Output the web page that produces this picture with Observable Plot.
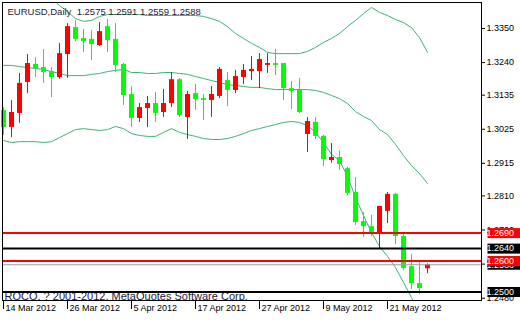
<!DOCTYPE html>
<html><head><meta charset="utf-8">
<script src="https://cdn.jsdelivr.net/npm/d3@7"></script>
<script src="https://cdn.jsdelivr.net/npm/@observablehq/plot@0.6"></script>
<style>
html,body{margin:0;padding:0;background:#fff;overflow:hidden;}
</style></head><body><div id="chart"></div>
<script>
const symbol = "EURUSD";
const period = "Daily";
const copyright = "ROCO, ? 2001-2012, MetaQuotes Software Corp.";

const dates = ["14 Mar 2012","15 Mar 2012","16 Mar 2012","19 Mar 2012","20 Mar 2012","21 Mar 2012","22 Mar 2012","23 Mar 2012","26 Mar 2012","27 Mar 2012","28 Mar 2012","29 Mar 2012","30 Mar 2012","2 Apr 2012","3 Apr 2012","4 Apr 2012","5 Apr 2012","6 Apr 2012","9 Apr 2012","10 Apr 2012","11 Apr 2012","12 Apr 2012","13 Apr 2012","16 Apr 2012","17 Apr 2012","18 Apr 2012","19 Apr 2012","20 Apr 2012","23 Apr 2012","24 Apr 2012","25 Apr 2012","26 Apr 2012","27 Apr 2012","30 Apr 2012","1 May 2012","2 May 2012","3 May 2012","4 May 2012","7 May 2012","8 May 2012","9 May 2012","10 May 2012","11 May 2012","14 May 2012","15 May 2012","16 May 2012","17 May 2012","18 May 2012","21 May 2012","22 May 2012","23 May 2012","24 May 2012","25 May 2012","28 May 2012"];

const open = [1.3086,1.3031,1.3076,1.3176,1.3234,1.3224,1.3211,1.3192,1.3266,1.3353,
  1.3318,1.3315,1.3295,1.3356,1.3315,1.3234,1.3137,1.3060,1.3092,1.3108,
  1.3079,1.3108,1.3185,1.3063,1.3140,1.3124,1.3118,1.3131,1.3182,1.3150,
  1.3192,1.3211,1.3211,1.3231,1.3237,1.3237,1.3156,1.3150,1.3008,1.3047,
  1.3002,1.2924,1.2934,1.2898,1.2821,1.2727,1.2711,1.2689,1.2760,1.2815,
  1.2679,1.2582,1.2527,1.2575];
const high = [1.3095,1.3118,1.3205,1.3266,1.3256,1.3282,1.3224,1.3302,1.3366,1.3376,
  1.3347,1.3344,1.3369,1.3379,1.3366,1.3237,1.3163,1.3108,1.3131,1.3144,
  1.3153,1.3208,1.3189,1.3147,1.3169,1.3137,1.3163,1.3224,1.3208,1.3215,
  1.3234,1.3260,1.3269,1.3269,1.3282,1.3237,1.3179,1.3189,1.3063,1.3063,
  1.3005,1.2979,1.2956,1.2902,1.2869,1.2756,1.2747,1.2776,1.2821,1.2818,
  1.2689,1.2621,1.2595,1.2591];
const low = [1.3005,1.2998,1.3044,1.3140,1.3192,1.3173,1.3127,1.3186,1.3189,1.3308,
  1.3273,1.3247,1.3292,1.3273,1.3208,1.3102,1.3031,1.3047,1.3031,1.3047,
  1.3063,1.3095,1.3063,1.2992,1.3086,1.3053,1.3063,1.3124,1.3098,1.3140,
  1.3169,1.3182,1.3156,1.3205,1.3198,1.3118,1.3089,1.3076,1.2950,1.2992,
  1.2905,1.2915,1.2892,1.2811,1.2715,1.2676,1.2679,1.2640,1.2721,1.2653,
  1.2569,1.2508,1.2492,1.2559];
const close = [1.3031,1.3079,1.3173,1.3237,1.3221,1.3208,1.3192,1.3269,1.3356,1.3315,
  1.3308,1.3298,1.3340,1.3311,1.3231,1.3134,1.3060,1.3095,1.3108,1.3076,
  1.3108,1.3185,1.3069,1.3137,1.3121,1.3118,1.3137,1.3218,1.3150,1.3195,
  1.3215,1.3218,1.3250,1.3237,1.3231,1.3156,1.3147,1.3079,1.3050,1.3002,
  1.2927,1.2934,1.2911,1.2818,1.2724,1.2711,1.2692,1.2776,1.2815,1.2679,
  1.2576,1.2527,1.2511,1.2588];

// Bollinger bands
const bbUpper = [null,null,null,null,null,null,1.3447,1.3424,1.3405,1.3382,
  1.3373,1.3376,1.3389,1.3395,1.3395,1.3395,1.3395,1.3395,1.3392,1.3392,
  1.3392,1.3392,1.3392,1.3392,1.3392,1.3389,1.3382,1.3373,1.3356,1.3334,
  1.3318,1.3302,1.3289,1.3273,1.3269,1.3269,1.3269,1.3269,1.3276,1.3289,
  1.3305,1.3318,1.3334,1.3356,1.3376,1.3398,1.3418,1.3402,1.3392,1.3379,
  1.3369,1.3353,1.3321,1.3273];
const bbMiddle = [1.3231,1.3231,1.3227,1.3224,1.3221,1.3218,1.3211,1.3205,1.3198,1.3198,
  1.3198,1.3202,1.3205,1.3211,1.3215,1.3218,1.3208,1.3208,1.3205,1.3205,
  1.3208,1.3208,1.3205,1.3202,1.3195,1.3189,1.3182,1.3176,1.3169,1.3166,
  1.3163,1.3160,1.3160,1.3156,1.3153,1.3153,1.3153,1.3153,1.3153,1.3150,
  1.3144,1.3134,1.3124,1.3108,1.3082,1.3066,1.3053,1.3024,1.3008,1.2976,
  1.2940,1.2908,1.2882,1.2850];
const bbLower = [1.2989,1.2982,1.2985,1.2985,1.2985,1.2982,1.2985,1.2998,1.3011,1.3024,
  1.3027,1.3024,1.3021,1.3024,1.3034,1.3027,1.3011,1.3005,1.3002,1.3002,
  1.3015,1.3027,1.3015,1.3008,1.3002,1.2995,1.2992,1.2992,1.2995,1.3002,
  1.3011,1.3021,1.3027,1.3034,1.3040,1.3047,1.3050,1.3047,1.3037,1.3015,
  1.2982,1.2944,1.2924,1.2873,1.2805,1.2747,1.2692,1.2647,1.2615,1.2579,
  1.2531,1.2482,1.2434,1.2389];

const priceTicks = [1.3350, 1.3240, 1.3135, 1.3025, 1.2915, 1.2810, 1.2700, 1.2590, 1.2480];
const dateTickIdx = [0, 8, 16, 24, 32, 40, 48];
const redLevels = [1.2690, 1.2600];
const blackLevels = [1.2640, 1.2500];
const bid = 1.2588;

const RED = "#ff0000", GREEN = "#00ff00", BAND = "#3cb371";

const candles = dates.map((date, i) => ({
  i, date, open: open[i], high: high[i], low: low[i], close: close[i],
  up: close[i] >= open[i]
}));
const bands = candles.map(d => ({i: d.i, upper: bbUpper[d.i], middle: bbMiddle[d.i], lower: bbLower[d.i]}));
const last = candles[candles.length - 1];
const titleText = `${symbol},${period}\u00a0\u00a0${[last.open, last.high, last.low, last.close].map(v => v.toFixed(4)).join(" ")}`;

const boxRows = [{price: bid, bg: "#000000"}].concat(
  [...redLevels.map(p => ({price: p, bg: RED})), ...blackLevels.map(p => ({price: p, bg: "#000000"}))]
    .sort((a, b) => b.price - a.price)
);

const boxedText = Plot.text(boxRows, {
  y: "price",
  text: d => d.price.toFixed(4),
  frameAnchor: "right",
  textAnchor: "start",
  dx: 5,
  fill: "white",
  fontSize: 9,
  render(index, scales, values, dims, context, next) {
    const g = next(index, scales, values, dims, context);
    const texts = Array.from(g.querySelectorAll("text"));
    const x0 = dims.width - dims.marginRight + 1;
    texts.forEach((t, k) => {
      const i = index[k];
      const yy = values.y[i];
      const r = document.createElementNS("http://www.w3.org/2000/svg", "rect");
      r.setAttribute("x", x0);
      r.setAttribute("y", yy - 5);
      r.setAttribute("width", dims.marginRight - 2);
      r.setAttribute("height", 10);
      r.setAttribute("fill", boxRows[i].bg);
      t.parentNode.insertBefore(r, t);
    });
    return g;
  }
});

const chart = Plot.plot({
  width: 520,
  height: 320,
  marginLeft: 2,
  marginRight: 39,
  marginTop: 2,
  marginBottom: 20,
  style: {background: "white", fontFamily: "'Liberation Sans', Arial, sans-serif", fontSize: "9px", overflow: "visible"},
  x: {type: "linear", domain: [-0.125, 59.75], label: null},
  y: {domain: [1.24726, 1.34339], label: null},
  marks: [
    Plot.line(bands, {x: "i", y: "upper", stroke: BAND, strokeWidth: 1, clip: true}),
    Plot.line(bands, {x: "i", y: "middle", stroke: BAND, strokeWidth: 1, clip: true}),
    Plot.line(bands, {x: "i", y: "lower", stroke: BAND, strokeWidth: 1, clip: true}),
    Plot.ruleX(candles, {x: "i", y1: "low", y2: "high", stroke: d => d.up ? RED : GREEN, strokeWidth: 1}),
    Plot.ruleX(candles, {x: "i", y1: "open", y2: "close", stroke: d => d.up ? RED : GREEN, strokeWidth: 5}),
    Plot.text([titleText], {frameAnchor: "top-left", dx: 5, dy: 6, lineAnchor: "top", textAnchor: "start", fontSize: 9.5, fill: "#1a1a3a"}),
    Plot.text([copyright], {frameAnchor: "bottom-left", dx: 2, dy: -1, lineAnchor: "bottom", textAnchor: "start", fontSize: 11, fill: "#1a1a3a", clip: true}),
    Plot.ruleY([bid], {stroke: "#a0a0a0", strokeWidth: 1}),
    Plot.ruleY(redLevels, {stroke: RED, strokeWidth: 2}),
    Plot.ruleY(blackLevels, {stroke: "#000000", strokeWidth: 2}),
    Plot.frame({stroke: "#000000"}),
    Plot.axisY(priceTicks, {anchor: "right", tickSize: 3, tickPadding: 2, tickFormat: d => d.toFixed(4), fontSize: 9, label: null}),
    boxedText,
    Plot.axisX(dateTickIdx, {anchor: "bottom", tickSize: 9, tickFormat: () => "", label: null}),
    Plot.axisX(dateTickIdx, {anchor: "bottom", tickSize: 0, tickPadding: 4, dx: 2, textAnchor: "start", tickFormat: i => dates[i], fontSize: 9, label: null})
  ]
});
document.getElementById("chart").appendChild(chart);
</script></body></html>
